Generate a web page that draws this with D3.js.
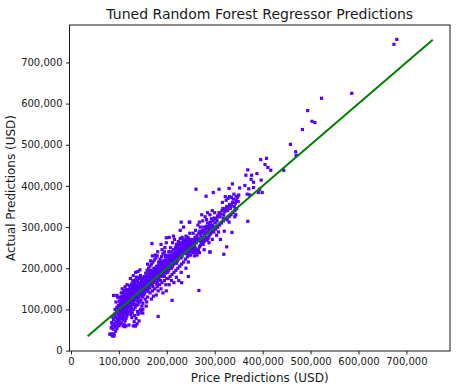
<!DOCTYPE html>
<meta charset="utf-8">
<html>
<head>
	<script src="https://d3js.org/d3.v7.min.js"></script>
	<style>
		body { margin: 0; background: #fff; }
		text { font-family: "DejaVu Sans", sans-serif; fill: #1a1a1a; }
	</style>
</head>
<body>
<div id="chart"></div>
<script>

// predicted price vs actual price, in thousands of USD
var predicted = [
 83,85,87,88,90,84,86,88,90,92,94,96,85,89,93,97,99,91,95,98,86,92,96,99,94,97,89,100,98,93,96,100,
 101,103,105,107,109,102,104,106,108,110,112,114,116,118,101,103,105,107,109,111,113,115,117,119,102,104,106,108,110,112,114,116,118,120,111,113,115,117,119,103,105,107,109,111,113,115,117,119,101,104,106,108,110,112,114,116,118,120,109,112,121,100,
 121,123,125,127,129,122,124,126,128,130,132,134,136,138,140,121,123,125,127,129,131,133,135,137,139,141,143,145,147,149,122,124,126,128,130,132,134,136,138,140,142,144,146,148,150,125,128,131,134,137,140,143,146,149,127,133,139,145,148,135,140,146,150,124,130,135,140,144,132,136,142,147,129,137,141,143,126,131,133,138,144,146,149,122,128,150,130,138,
 151,153,155,157,159,161,163,165,167,169,171,173,175,177,179,181,183,185,187,189,191,193,195,197,199,152,154,156,158,160,162,164,166,168,170,172,174,176,178,180,182,184,186,188,190,192,194,196,198,200,153,156,159,162,165,168,171,174,177,180,183,186,189,192,195,198,155,160,165,170,175,180,185,190,195,200,158,168,178,188,198,163,173,183,193,160,166,176,190,170,196,199,188,181,200,185,175,165,157,154,161,171,179,187,195,182,192,172,157,150,200,199,
 201,203,205,207,209,211,213,215,217,219,221,223,225,227,229,231,233,235,237,239,241,243,245,247,249,202,204,206,208,210,212,214,216,218,220,222,224,226,228,230,232,234,236,238,240,242,244,246,248,250,204,208,212,216,220,224,228,232,236,240,244,248,203,207,211,215,219,223,227,231,235,239,243,247,210,220,230,240,250,205,215,225,245,228,235,248,205,214,203,241,246,249,238,233,
 251,253,255,257,259,261,263,265,267,269,271,273,275,277,279,281,283,285,287,289,291,293,295,297,299,252,254,256,258,260,262,264,266,268,270,272,274,276,278,280,282,284,286,288,290,292,294,296,298,300,255,260,265,270,275,280,285,290,295,300,263,268,278,258,290,288,295,283,268,273,
 301,303,305,307,309,311,313,315,317,319,321,323,325,327,329,331,333,335,337,339,341,343,345,347,349,302,306,310,314,318,322,326,330,334,338,342,346,304,308,312,320,316,324,328,335,340,345,350,306,318,330,344,
 674,680,586,523,494,503,509,483,458,470,469,444,396,408,405,411,417,369,377,365,388,376,381,363,381,371,352,337,368,373,391,399,394,397,369,261,282,297,309,330,322,331,348,343,342,336,325,319,290,267,211,182,230,247,169,199,245,231,87,90,81,115,133,102,96,150,
 98,102,105,107,109,111,113,114,116,118,119,121,122,124,125,126,128,129,131,132,133,135,136,137,139,141,142,143,145,147,148,149,104,108,112,116,120,124,127,131,134,138,142,146,150,110,113,117,121,125,129,133,137,141,145,149,103,106,117,123,127,
 151,153,154,156,157,159,161,163,164,166,167,169,171,172,174,176,177,179,181,182,184,186,187,189,191,193,194,196,197,199,201,202,204,206,208,209,211,213,214,216,218,219,221,223,225,226,228,230,232,234,235,237,239,241,243,245,247,249,152,158,164,170,176,182,188,194,200,206,212,218,224,230,236,242,248,255,258,262,266,270,274,277,282,286,289,292,297,262,256,271,279
];
var actual = [
 40,38,36,35,40,55,60,52,65,58,70,62,68,75,80,78,72,88,92,98,82,100,105,110,118,130,134,85,66,47,53,60,
 70,78,66,85,92,95,100,108,115,98,104,110,120,126,120,112,125,132,140,118,128,135,142,115,88,82,92,74,80,88,95,100,90,105,64,72,78,84,96,130,140,150,128,145,155,148,160,135,103,90,118,105,112,122,130,110,115,125,60,58,62,128,
 120,130,138,145,150,108,115,122,128,135,140,148,152,158,145,140,150,158,162,170,155,165,172,178,168,160,175,182,170,165,95,100,105,112,118,122,128,132,138,125,130,140,150,155,160,88,92,100,105,110,112,118,122,130,80,85,95,100,108,60,88,92,115,175,182,190,192,196,70,78,72,98,162,145,150,155,132,138,112,120,165,135,145,158,142,140,60,65,
 150,160,168,175,180,170,178,185,190,182,175,188,195,200,192,185,198,205,210,200,195,205,215,220,210,135,140,145,150,155,158,160,165,168,160,165,170,172,175,168,172,178,182,185,180,185,190,195,188,192,180,188,195,200,205,210,215,220,225,230,215,222,228,235,240,232,125,130,140,145,150,155,160,165,170,175,118,125,135,150,160,192,200,208,218,210,218,232,245,230,250,262,258,240,228,192,182,172,162,152,144,155,162,170,180,145,140,132,108,100,200,145,
 205,212,220,225,230,215,222,230,238,245,235,240,248,255,242,250,258,262,250,255,262,268,255,260,265,190,195,200,205,200,205,210,215,220,212,218,222,228,232,225,230,235,240,238,242,245,240,245,250,248,240,250,262,270,258,265,272,275,270,278,275,285,175,180,185,190,195,200,205,210,215,222,228,232,170,178,190,200,232,160,165,170,215,292,300,312,275,278,230,236,238,242,245,240,
 255,262,270,265,275,268,280,272,285,290,278,285,292,300,288,295,302,310,298,305,312,320,305,315,322,240,245,238,242,248,235,240,245,252,255,260,262,258,265,270,275,268,272,278,282,285,290,295,288,300,285,292,305,300,315,325,335,330,340,335,232,238,245,230,240,262,270,318,312,330,
 310,320,315,328,335,325,332,340,345,330,338,345,350,340,348,355,345,352,360,368,350,358,365,372,362,295,300,305,310,315,320,318,325,330,335,340,345,280,288,270,290,360,365,370,372,380,375,378,325,322,312,330,
 744,756,625,613,583,557,554,537,501,474,483,438,464,467,452,445,438,439,426,426,430,416,409,401,396,393,395,405,380,378,384,384,392,414,314,392,375,384,392,394,374,374,374,343,325,287,252,234,239,146,122,83,312,312,260,274,180,165,40,36,40,60,60,63,134,91,
 88,108,97,118,105,125,115,122,128,132,122,128,135,128,145,140,135,142,146,132,150,142,158,150,155,143,162,148,158,162,170,152,118,125,135,138,148,155,152,160,162,172,178,178,175,92,100,106,112,115,122,125,130,137,145,138,102,113,118,118,125,
 165,172,158,165,180,168,185,170,180,178,195,172,192,180,186,192,178,205,195,188,200,196,215,208,215,198,212,205,228,220,215,228,208,232,218,240,228,235,245,225,250,232,250,228,258,240,248,262,242,268,252,265,245,270,250,272,255,270,145,160,152,188,180,180,195,200,210,210,218,228,232,238,246,252,258,260,255,262,268,270,275,270,285,290,295,298,300,275,250,265,280
];
// the reference line runs over the range of actual prices
var lineEnds = [34.9, 755];

var xTicks = [0, 100000, 200000, 300000, 400000, 500000, 600000, 700000];
var yTicks = [0, 100000, 200000, 300000, 400000, 500000, 600000, 700000];

var points = predicted.map(function(p, i) { return {px: p * 1000, py: actual[i] * 1000}; });

var W = 461, H = 391;
var mLeft = 69.5, mRight = 450, mTop = 25, mBottom = 351;

var svg = d3.select("#chart")
  .append("svg")
    .attr("width", W)
    .attr("height", H);

var x = d3.scaleLinear().domain([-3000, 791000]).range([mLeft, mRight]);
var y = d3.scaleLinear().domain([-1100, 791000]).range([mBottom, mTop]);

var fmt = d3.format(",");

// points
svg.append("g")
  .selectAll("rect")
  .data(points)
  .enter()
  .append("rect")
    .attr("x", function(d) { return x(d.px) - 1.6; })
    .attr("y", function(d) { return y(d.py) - 1.6; })
    .attr("width", 3.2)
    .attr("height", 3.2)
    .attr("fill", "#5500ff");

// y = x line
svg.append("line")
  .attr("x1", x(lineEnds[0] * 1000))
  .attr("y1", y(lineEnds[0] * 1000))
  .attr("x2", x(lineEnds[1] * 1000))
  .attr("y2", y(lineEnds[1] * 1000))
  .attr("stroke", "#008000")
  .attr("stroke-width", 2);

// frame
svg.append("rect")
  .attr("x", mLeft).attr("y", mTop)
  .attr("width", mRight - mLeft).attr("height", mBottom - mTop)
  .attr("fill", "none")
  .attr("stroke", "#1a1a1a")
  .attr("stroke-width", 1);

// axes
var xAxis = svg.append("g")
  .attr("transform", "translate(0," + mBottom + ")")
  .call(d3.axisBottom(x).tickValues(xTicks).tickFormat(fmt).tickSize(3.5).tickPadding(3.5));
var yAxis = svg.append("g")
  .attr("transform", "translate(" + mLeft + ",0)")
  .call(d3.axisLeft(y).tickValues(yTicks).tickFormat(fmt).tickSize(3.5).tickPadding(3.5));

[xAxis, yAxis].forEach(function(a) {
  a.select(".domain").remove();
  a.selectAll("line").attr("stroke", "#1a1a1a");
  a.selectAll("text")
    .style("font-family", "DejaVu Sans, sans-serif")
    .style("font-size", "10px")
    .attr("fill", "#1a1a1a");
});

// title and labels
svg.append("text")
  .attr("x", (mLeft + mRight) / 2)
  .attr("y", 19)
  .attr("text-anchor", "middle")
  .style("font-size", "14px")
  .text("Tuned Random Forest Regressor Predictions");

svg.append("text")
  .attr("x", (mLeft + mRight) / 2)
  .attr("y", 382)
  .attr("text-anchor", "middle")
  .style("font-size", "12px")
  .text("Price Predictions (USD)");

svg.append("text")
  .attr("transform", "translate(15," + ((mTop + mBottom) / 2) + ") rotate(-90)")
  .attr("text-anchor", "middle")
  .style("font-size", "12px")
  .text("Actual Predictions (USD)");

</script>
</body>
</html>
